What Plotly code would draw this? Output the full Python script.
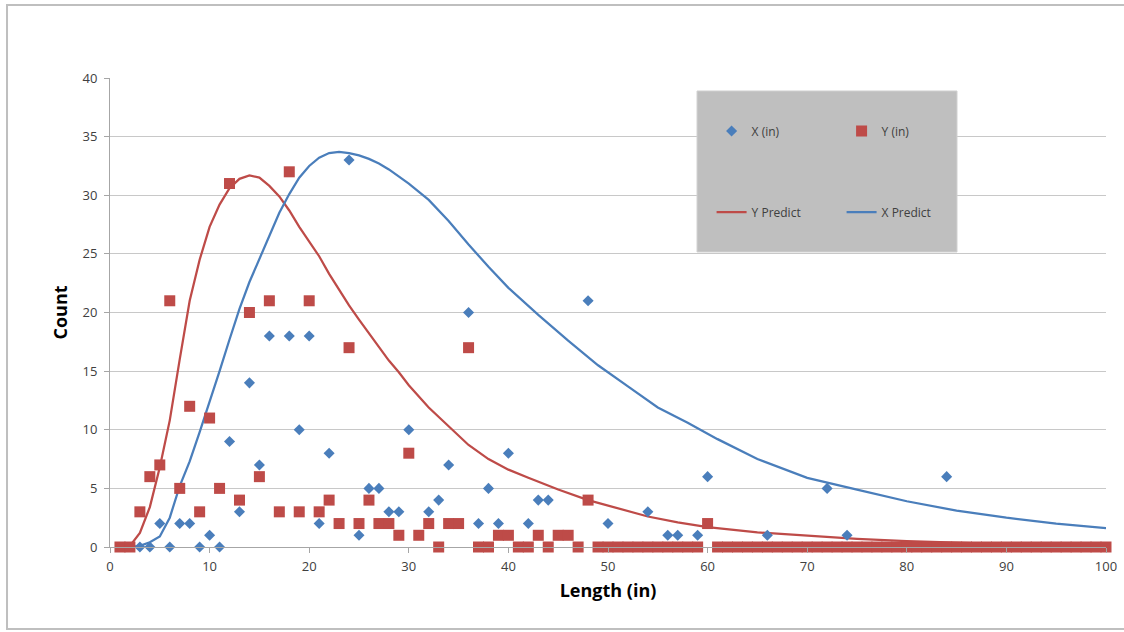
import plotly.graph_objects as go

# ---------------- data ----------------
# X (in) observed counts
x_len = [3, 4, 5, 6, 7, 8, 9, 10, 11, 12, 13, 14, 15, 16, 18, 19, 20, 21, 22, 24, 25, 26, 27, 28, 29, 30,
         32, 33, 34, 36, 37, 38, 39, 40, 42, 43, 44, 48, 50, 54, 56, 57, 59, 60, 66, 72, 74, 84]
x_cnt = [0, 0, 2, 0, 2, 2, 0, 1, 0, 9, 3, 14, 7, 18, 18, 10, 18, 2, 8, 33, 1, 5, 5, 3, 3, 10,
         3, 4, 7, 20, 2, 5, 2, 8, 2, 4, 4, 21, 2, 3, 1, 1, 1, 6, 1, 5, 1, 6]

# Y (in) observed counts, lengths 1..100
y_len = list(range(1, 101))
y_cnt = [0, 0, 3, 6, 7, 21, 5, 12, 3, 11,
         5, 31, 4, 20, 6, 21, 3, 32, 3, 21,
         3, 4, 2, 17, 2, 4, 2, 2, 1, 8,
         1, 2, 0, 2, 2, 17, 0, 0, 1, 1,
         0, 0, 1, 0, 1, 1, 0, 4, 0, 0,
         0, 0, 0, 0, 0, 0, 0, 0, 0, 2,
         0, 0, 0, 0, 0, 0, 0, 0, 0, 0,
         0, 0, 0, 0, 0, 0, 0, 0, 0, 0,
         0, 0, 0, 0, 0, 0, 0, 0, 0, 0,
         0, 0, 0, 0, 0, 0, 0, 0, 0, 0]

# Y Predict curve
yp_x = [1, 2, 3, 4, 5, 6, 7, 8, 9, 10, 11, 12, 13, 14, 15, 16, 17, 18, 19, 20, 21, 22, 23, 24, 25,
        26, 27, 28, 29, 30, 32, 34, 36, 38, 40, 42, 45, 48, 51, 54, 57, 60, 65, 70, 75, 80, 85, 90, 95, 100]
yp_y = [0, 0.1, 1.2, 3.4, 6.8, 10.8, 16.0, 21.0, 24.5, 27.3, 29.2, 30.6, 31.4, 31.7, 31.5, 30.8, 29.9,
        28.7, 27.3, 26.1, 24.8, 23.3, 21.9, 20.6, 19.4, 18.2, 17.0, 15.9, 14.9, 13.8, 11.9, 10.3, 8.7,
        7.5, 6.6, 5.9, 4.9, 4.0, 3.3, 2.6, 2.1, 1.7, 1.25, 0.95, 0.7, 0.5, 0.35, 0.25, 0.15, 0.1]

# X Predict curve
xp_x = [1, 2, 3, 4, 5, 6, 7, 8, 9, 10, 11, 12, 13, 14, 15, 16, 17, 18, 19, 20, 21, 22, 23, 24, 25,
        26, 27, 28, 29, 30, 32, 34, 36, 38, 40, 43, 46, 49, 52, 55, 58, 61, 65, 70, 75, 80, 85, 90, 95, 100]
xp_y = [0, 0, 0.1, 0.4, 0.9, 2.5, 5.2, 7.3, 9.8, 12.3, 15.0, 17.7, 20.3, 22.6, 24.6, 26.6, 28.5, 30.1,
        31.5, 32.5, 33.2, 33.6, 33.7, 33.6, 33.4, 33.1, 32.7, 32.2, 31.6, 31.0, 29.6, 27.8, 25.8, 23.9,
        22.1, 19.8, 17.6, 15.5, 13.7, 11.9, 10.6, 9.2, 7.5, 5.9, 4.9, 3.9, 3.1, 2.5, 2.0, 1.6]

x_ticks = [0, 10, 20, 30, 40, 50, 60, 70, 80, 90, 100]
y_ticks = [0, 5, 10, 15, 20, 25, 30, 35, 40]

# ---------------- styles ----------------
BLUE = "#4A7EBB"
RED = "#BE4B48"
FONT = "Open Sans"

fig = go.Figure()
fig.add_trace(go.Scatter(x=yp_x, y=yp_y, mode="lines", name="Y Predict",
                         line=dict(color=RED, width=2.25), legend="legend2", cliponaxis=False))
fig.add_trace(go.Scatter(x=xp_x, y=xp_y, mode="lines", name="X Predict",
                         line=dict(color=BLUE, width=2.25), legend="legend2", cliponaxis=False))
fig.add_trace(go.Scatter(x=x_len, y=x_cnt, mode="markers", name="X (in)",
                         marker=dict(symbol="diamond", size=8.5, color=BLUE, line=dict(width=0)),
                         legend="legend", cliponaxis=False))
fig.add_trace(go.Scatter(x=y_len, y=y_cnt, mode="markers", name="Y (in)",
                         marker=dict(symbol="square", size=11, color=RED, line=dict(width=0)),
                         legend="legend", cliponaxis=False))

axis_common = dict(showline=True, linecolor="#A6A6A6", linewidth=1, ticks="outside",
                   ticklen=5, tickcolor="#A6A6A6", zeroline=False, automargin=False,
                   tickfont=dict(family=FONT, size=13, color="#404040"))

fig.update_layout(
    width=1124, height=632,
    margin=dict(l=110, r=18, t=78, b=85, autoexpand=False),
    paper_bgcolor="white", plot_bgcolor="white",
    font=dict(family=FONT, size=12, color="#404040"),
    xaxis=dict(range=[0, 100], tickvals=x_ticks, showgrid=False, ticklabelstandoff=2,
               title=dict(text="<b>Length (in)</b>", font=dict(family=FONT, size=18, color="#000000"),
                          standoff=10),
               **axis_common),
    yaxis=dict(range=[0, 40], tickvals=y_ticks, showgrid=True, gridcolor="#C8C8C8", gridwidth=1,
               ticklabelstandoff=4,
               title=dict(text="<b>Count</b>", font=dict(family=FONT, size=18, color="#000000"),
                          standoff=10),
               **axis_common),
    legend=dict(orientation="h", x=0.604, y=0.887, xanchor="left", yanchor="middle",
                bgcolor="rgba(0,0,0,0)", borderwidth=0, entrywidth=85, entrywidthmode="pixels",
                font=dict(family=FONT, size=12, color="#404040")),
    legend2=dict(orientation="h", x=0.604, y=0.714, xanchor="left", yanchor="middle",
                 bgcolor="rgba(0,0,0,0)", borderwidth=0, entrywidth=85, entrywidthmode="pixels",
                 font=dict(family=FONT, size=12, color="#404040")),
    shapes=[
        dict(type="rect", xref="paper", yref="paper", x0=0.5894, x1=0.8504, y0=0.629, y1=0.9723,
             fillcolor="#BFBFBF", line=dict(color="#D0D0D0", width=1), layer="above"),
        dict(type="rect", xref="paper", yref="paper", x0=-0.1034, x1=1.03, y0=-0.1748, y1=1.1557,
             fillcolor="rgba(0,0,0,0)", line=dict(color="#BFBFBF", width=2), layer="above"),
    ],
)

fig.write_html("out.html")
